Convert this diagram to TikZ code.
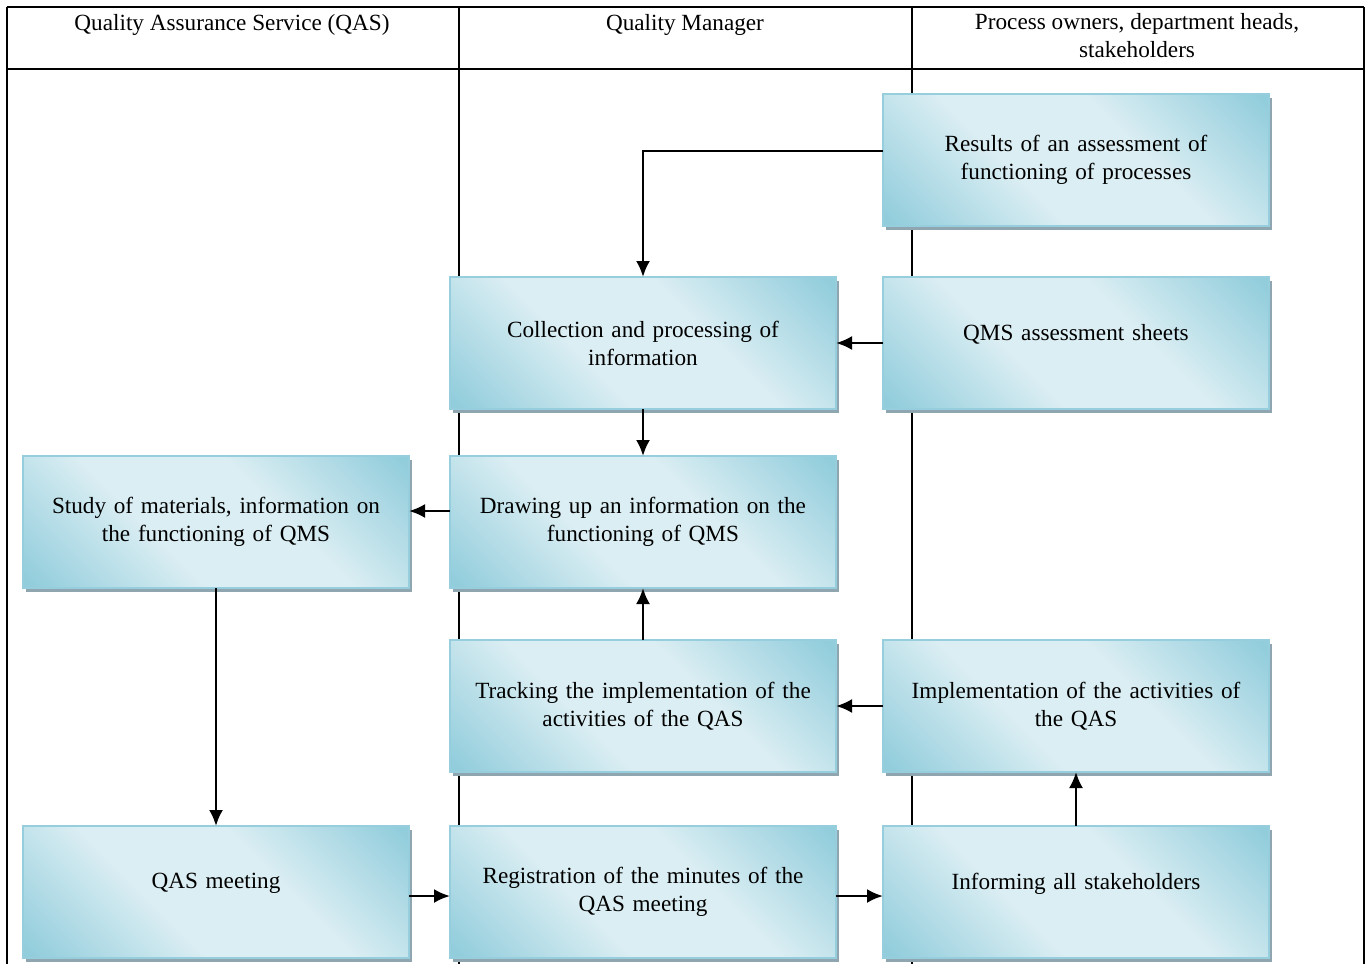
\documentclass[tikz,border=0pt]{standalone}
\usepackage{fontspec}
\setmainfont{Liberation Serif}
\usetikzlibrary{arrows.meta, positioning, shadows}
\definecolor{qasdark}{RGB}{146, 205, 220}
\definecolor{qaslight}{RGB}{219, 238, 243}
\definecolor{qasedge}{RGB}{150, 206, 221}
\definecolor{qasshadow}{RGB}{143, 166, 176}
\pgfdeclarehorizontalshading{qasfill}{100bp}{color(0bp)=(qasdark); color(16bp)=(qasdark);
    color(40bp)=(qaslight); color(60bp)=(qaslight); color(84bp)=(qasdark); color(100bp)=(qasdark)}

\begin{document}
\begin{tikzpicture}[
    x=0.5pt, y=-0.5pt,
    node distance=26pt and 23.5pt,
    block/.style={rectangle, draw=qasedge, line width=0.8pt,
        shading=qasfill, shading angle=45,
        minimum width=193pt, minimum height=66pt, text width=185pt, align=center,
        font=\fontsize{11.6}{14}\selectfont, outer sep=0pt,
        drop shadow={shadow xshift=1.5pt, shadow yshift=-2pt, fill=qasshadow, opacity=1}},
    arrow/.style={-{Latex[length=8pt, width=7pt]}, line width=1.2pt},
    header/.style={font=\fontsize{11.6}{14}\selectfont, align=center},
    grid/.style={line width=0.8pt}
]
\useasboundingbox (0,0) rectangle (1366,964);

% Tabla de responsables
\draw[grid] (7,7) -- (1364,7);
\draw[grid] (7,69) -- (1364,69);
\foreach \x in {7,459,912,1364}
    \draw[grid] (\x,7) -- (\x,964);

\node[header] (hqas) at (232,25) {Quality Assurance Service (QAS)};
\node[header] (hqm) at (685,25) {Quality Manager};
\node[header] (howner) at (1137,36) {Process owners, department heads,\\stakeholders};

% Bloques del proceso
\node[block] (results) at (1076,160) {Results of an assessment of\\functioning of processes};
\node[block, below=25.5pt of results] (sheets) {QMS assessment sheets\\[-3pt]\mbox{}};
\node[block, left=of sheets] (collect) {Collection and processing of\\information};
\node[block, below=23.5pt of collect] (drawing) {Drawing up an information on the\\functioning of QMS};
\node[block, left=20.5pt of drawing] (study) {Study of materials, information on\\the functioning of QMS};
\node[block, below=of drawing] (tracking) {Tracking the implementation of the\\activities of the QAS};
\node[block, right=of tracking] (implement) {Implementation of the activities of\\the QAS};
\node[block, below=27pt of tracking] (minutes) {Registration of the minutes of the\\QAS meeting};
\node[block, left=20.5pt of minutes] (meeting) {QAS meeting\\[-3pt]\mbox{}};
\node[block, right=of minutes] (inform) {Informing all stakeholders\\[-3pt]\mbox{}};

% Flechas
\draw[arrow] ([yshift=4.5pt]results.west) -| (collect.north);
\draw[arrow] (sheets) -- (collect);
\draw[arrow] (collect) -- (drawing);
\draw[arrow] ([yshift=5.5pt]drawing.west) -- ([yshift=5.5pt]study.east);
\draw[arrow] (tracking) -- (drawing);
\draw[arrow] (implement) -- (tracking);
\draw[arrow] (study) -- (meeting);
\draw[arrow] ([yshift=-2pt]meeting.east) -- ([yshift=-2pt]minutes.west);
\draw[arrow] ([yshift=-2pt]minutes.east) -- ([yshift=-2pt]inform.west);
\draw[arrow] (inform) -- (implement);

\end{tikzpicture}
\end{document}
